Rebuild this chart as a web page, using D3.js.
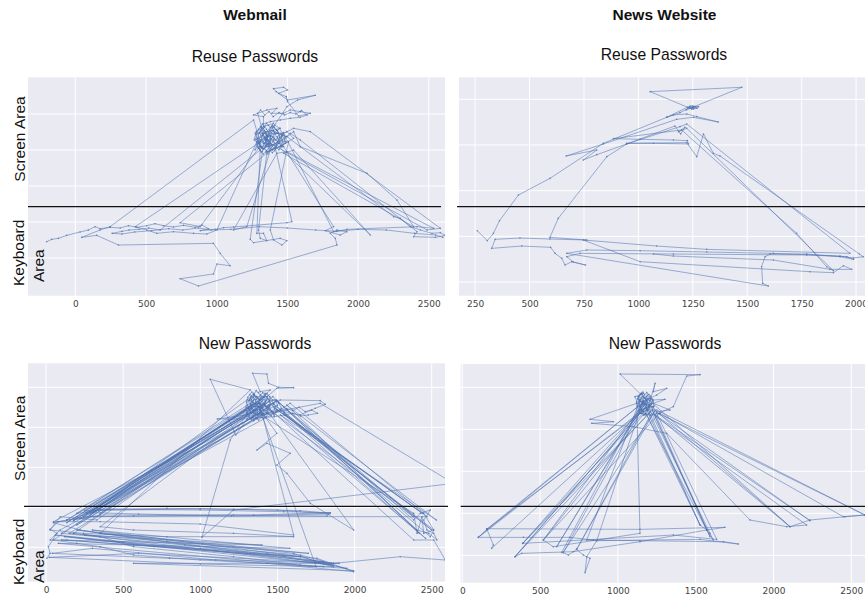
<!DOCTYPE html>
<html>
<head>
<meta charset="utf-8">
<script src="https://cdn.jsdelivr.net/npm/d3@7"></script>
<style>
  body { margin: 0; background: #fff; }
  svg { display: block; }
</style>
</head>
<body>
<svg id="fig" width="865" height="596"></svg>
<script>
// Gaze trajectories: [horizontal position, screen y (downwards)]
const webmailReuse = [
[-203,725],[-167,718],[-120,715],[-61,706],[33,696],[92,690],[140,680],[175,686],[246,682],[317,684],
[376,677],[435,682],[505,677],[564,671],[623,677],[694,681],[765,676],[848,682],[895,675],[942,686],
[883,692],[989,688],[1048,683],[1119,681],[1497,668],[1532,665],[1402,420],[1355,405],[1308,425],[1367,440],
[1426,428],[1461,405],[1390,392],[1331,400],[1284,418],[1320,445],[1261,360],[246,680],[175,690],[45,712],
[151,706],[305,735],[977,730],[1025,760],[1095,797],[1001,792],[977,822],[741,836],[871,858],[1851,735],
[1839,715],[1803,700],[1851,690],[1921,695],[1874,705],[1768,692],[1827,680],[1473,440],[1426,410],[1497,395],
[1544,415],[1485,430],[1414,445],[1355,455],[1296,690],[1308,715],[1355,722],[1331,700],[1284,700],[1308,440],
[1272,400],[1331,380],[1402,370],[1355,395],[1449,385],[423,680],[505,690],[576,700],[694,695],[836,700],
[930,702],[1001,690],[1284,425],[1355,410],[1426,400],[1497,410],[2252,650],[2299,655],[2370,680],[2441,690],
[2523,700],[2582,698],[2617,706],[2547,712],[2393,710],[2417,695],[1591,420],[1520,400],[1461,420],[1390,435],
[1300,400],[1330,385],[1360,410],[1340,430],[1310,420],[1285,440],[1320,455],[1350,440],[1380,420],[1410,400],
[1390,380],[1430,392],[1450,415],[1420,440],[1395,450],[1370,430],[1345,395],[1315,380],[1280,395],[1265,420],
[1290,430],[1330,445],[1365,455],[1400,435],[1440,430],[1470,405],[1445,385],[1410,375],[1375,390],[1350,420],
[1325,405],[1300,440],[1270,450],[1300,415],[1340,400],[1385,408],[1420,420],[1460,440],[1490,425],[1455,400],
[1320,400],[1335,392],[1350,405],[1342,418],[1328,425],[1315,412],[1305,398],[1318,386],[1334,378],[1352,388],
[1368,396],[1380,410],[1372,424],[1358,432],[1344,440],[1330,448],[1315,440],[1300,428],[1290,414],[1298,400],
[1312,390],[1326,404],[1340,412],[1356,418],[1370,408],[1386,398],[1402,392],[1416,402],[1408,416],[1394,426],
[1380,436],[1366,446],[1352,452],[1338,445],[1350,430],[1364,420],[1378,426],[1392,438],[1406,446],[1420,436],
[1432,424],[1444,412],[1436,398],[1422,390],[1408,382],[1394,376],[1380,384],[1366,376],[1352,370],[1338,382],
[1324,372],[1310,380],[1296,388],[1282,402],[1276,418],[1286,432],[1300,446],[1314,456],[1330,462],[1346,456],
[1362,462],[1378,452],[1394,458],[1410,452],[1426,444],[1440,450],[1454,438],[1466,426],[1458,410],[1470,398],
[1484,410],[1478,424],[1462,440],[1446,430],[1430,414],[1414,420],[1398,410],[1384,420],[1370,434],[1356,440],
[1290,340],[1310,330],[1340,345],[1370,335],[1400,350],[1440,338],[1480,345],[1520,338],[1560,342],[1600,332],
[1640,345],[1590,352],[1520,355],[1450,360],[1380,365],[1330,372],
[1331,350],[1261,345],[1355,330],[1426,325],[1390,340],[1473,340],[1520,330],[1591,335],[1662,340],[1579,348],
[1501,305],[1492,290],[1438,280],[1501,270],[1473,262],[1402,266],[1421,275],[1501,300],[1697,286],[1572,300],
[1497,320],[1402,380],[1343,420],[1390,450],[1449,440],[1508,425],[1379,690],[1402,720],[1461,735],[1497,722],
[1449,715],[1261,728],[1237,718],[1331,430],[1379,415],[2087,705],[1544,450],[1473,460],[2393,680],[2275,600],
[2063,520],[1591,440],[1544,395],[741,668],[883,680],[1296,445],[1379,430],[2488,690],[2582,685],[1662,395],
[1544,385],[1473,400],[1827,695],[1921,688],[2417,680],[2535,685],[1497,455],[1426,460],[1119,690],[1213,680],
[1379,450],[1355,420],[1308,450],[600,690],[520,684],[450,688],[380,690],[330,694],[260,700],[330,702],
[420,696],[540,692],[660,686],[760,690],[870,684],[960,690],[1100,688],[1300,680],[1500,684],[1700,690],
[1850,694],[2000,688],[2200,690],[2400,700],[2550,705],[2600,712]
];

const newsReuse = [
[260,692],[306,722],[334,700],[362,662],[449,585],[594,535],[839,430],[1130,352],[1225,322],[1253,326],
[1276,320],[1237,318],[1219,330],[1253,322],[1230,322],[1250,318],[1270,325],[1245,328],[1260,320],[1238,325],
[1475,262],[1054,275],[1234,324],[1191,338],[1130,352],[1161,345],[1222,342],[1268,350],[1367,366],[1253,352],
[1176,358],[839,432],[668,468],[809,450],[747,480],[809,464],[946,432],[1168,378],[1194,402],[1214,382],
[1184,395],[1222,385],[1896,812],[1865,800],[1727,700],[1199,390],[885,416],[1008,418],[1161,420],[1225,422],
[1230,432],[1069,430],[946,430],[1222,428],[1268,470],[1299,402],[1344,460],[1375,468],[2015,762],[2033,770],
[1988,774],[1926,768],[1620,760],[1314,756],[1008,752],[763,750],[671,760],[1597,858],[1571,850],[1566,800],
[1582,770],[1605,762],[1773,762],[1926,770],[1988,778],[1957,770],[1773,765],[1161,762],[732,760],[671,770],
[701,786],[757,795],[694,785],[663,795],[648,775],[617,760],[597,742],[464,738],[326,745],[342,718],
[456,714],[594,717],[763,720],[594,712],[632,655],[855,470],[946,432],[1191,380],[1222,372],[1972,760],
[1314,748],[1084,738],[747,720],[1008,785],[1788,815],[1896,818],[1942,797],[1980,808],[1880,808],[1620,780],
[1161,768],[1069,762]
];

const webmailNew = [
[5,775],[26,760],[15,740],[70,700],[26,688],[80,665],[156,660],[199,650],[264,642],[329,625],
[1302,300],[1345,285],[1388,300],[1432,280],[1475,310],[1410,330],[1345,340],[1324,310],
[134,660],[48,668],[221,690],[351,700],[783,720],[1215,740],[1605,760],[1777,790],[1864,800],[1648,795],
[1215,770],[567,740],[351,710],[178,700],
[1324,330],[1378,310],[1432,320],[1496,300],[1540,320],
[2383,660],[2426,640],[2491,630],[2448,660],[2469,690],[2513,700],[2534,720],[2480,700],[2405,690],
[1561,330],[1475,340],[1410,345],
[286,640],[351,628],[783,625],[1215,628],[1648,632],[1842,640],[1821,648],[1215,645],[567,648],[307,650],[178,660],
[1302,340],[1345,300],[1410,290],[1453,270],[1388,275],[1339,220],[1432,222],[1442,250],[1507,262],[1605,263],
[1496,265],[1432,290],
[1330,290],[1360,300],[1390,285],[1420,305],[1400,320],[1370,330],[1340,315],[1320,300],[1350,285],[1380,310],
[1410,330],[1440,315],[1470,300],[1450,290],[1420,280],[1390,295],[1360,320],[1330,340],[1310,325],[1335,305],
[1365,290],[1400,305],[1430,325],[1460,335],[1490,320],[1510,310],[1480,300],[1445,305],[1415,315],[1385,330],
[1355,345],[1325,355],[1345,335],[1375,320],[1405,300],[1435,295],[1465,315],[1495,335],[1525,325],[1505,305],
[1470,290],[1430,300],[1395,315],[1360,310],[1330,325],[1315,345],[1340,350],[1370,340],[1400,345],[1440,340],
[1330,300],[1345,292],[1360,305],[1352,318],[1338,326],[1325,314],[1318,300],[1330,288],[1346,280],[1362,290],
[1378,298],[1392,310],[1384,324],[1370,332],[1356,340],[1342,348],[1328,340],[1315,328],[1305,316],[1312,302],
[1326,294],[1340,306],[1354,312],[1368,318],[1382,308],[1398,298],[1412,292],[1426,302],[1418,316],[1404,326],
[1390,336],[1376,346],[1362,352],[1348,345],[1360,330],[1374,322],[1388,328],[1402,340],[1416,348],[1430,338],
[1442,326],[1454,314],[1446,300],[1432,292],[1418,284],[1404,278],[1390,286],[1376,278],[1362,272],[1348,284],
[1334,276],[1320,284],[1308,292],[1300,306],[1296,322],[1304,336],[1316,350],[1330,358],[1346,362],[1362,356],
[1378,360],[1394,352],[1410,356],[1426,350],[1442,342],[1458,348],[1472,336],[1484,326],[1476,312],[1490,302],
[1500,316],[1494,330],[1478,346],[1462,334],[1446,318],[1430,324],[1414,312],[1398,322],[1384,338],[1370,344],
[1520,330],[1560,326],[1600,332],[1640,322],[1680,335],[1720,330],[1760,340],[1700,345],[1650,348],[1600,340],
[1550,345],[1480,350],[1302,357],[1110,357],[1300,345],
[1518,300],[1777,302],[1810,313],[1745,325],[1648,345],[1540,335],
[2491,710],[2513,690],[2448,640],
[1583,310],[1518,330],
[91,690],[26,720],[134,720],[567,735],[999,745],[1432,760],[1756,775],[1994,815],[1432,790],[999,780],
[567,765],[351,740],[199,730],[48,720],
[1313,320],[1367,345],[1432,330],
[1994,690],[1713,610],[1561,520],[1496,495],[1583,460],[1432,430],[1367,450],[1496,400],
[1388,330],[1453,300],
[329,660],[91,650],[26,690],[243,700],[783,710],[1605,710],[1215,700],[567,690],[351,680],
[1302,350],[1367,355],[1432,340],
[1777,310],[2642,550],[1215,630],[1010,712],[1194,420],[1345,310],
[199,640],[415,628],[999,630],[1540,635],[1842,638],[1345,645],[351,645],[134,660],
[1345,330],[1410,310],
[2383,720],[2513,720],[2588,780],[2296,770],[1864,790],[567,790],[1994,812],
[1648,770],[1324,760],[351,700],
[1324,270],[1064,238],[1230,405],[1345,330],
[2383,640],[2405,700],[2437,650],[2448,700],[2513,690],
[1475,320],
[48,665],[351,665],[999,672],[1605,705],
[1388,320],
[1330,320],[264,640],[1360,330],[307,630],[1390,300],[221,655],[1420,290],[178,662],[1345,350],[286,645],
[1300,330],[134,668],[1375,310],[350,640],[1410,340],[199,675],[1450,320],[243,650],
[2470,650],[1500,330],[2440,640],[1540,340],[2500,690],[1470,310],[2420,700],[1560,315],[2530,660],[1520,345],
[2460,715],[1490,300],[2380,650],
[1450,330],[150,700],[1700,760],[200,690],[1800,785],[120,710],[1860,795],[250,705],[1400,735],[100,720],
[1650,770],[300,690],[1580,745],[80,730],[1750,800],
[1380,320],[250,632],[1000,626],[1500,630],[1830,642],[1200,648],[600,642],[300,638],[1420,310],
[100,700],[900,735],[1650,765],[1850,790],[1300,760],[500,725],[60,705],[700,740],[1550,770],[1950,805],
[1100,780],[300,745],[40,760],[800,775],[1900,790],[600,760],[20,772],[1000,792],[1800,800]
];

const newsNew = [
[157,688],[103,712],[393,712],[692,712],[842,720],[1142,722],[1678,725],[1774,732],[1528,718],[864,722],
[800,720],[1142,300],[1185,290],[1164,310],[1206,320],[1142,330],[1110,290],[1164,280],
[1130,290],[1150,280],[1170,295],[1190,285],[1210,300],[1185,315],[1160,305],[1140,320],[1165,335],[1195,330],
[1220,320],[1200,340],[1175,345],[1150,330],[1135,305],[1160,290],[1185,300],[1205,315],[1180,325],[1155,315],
[1140,300],[1150,292],[1162,302],[1156,314],[1145,320],[1136,310],[1130,298],[1140,286],[1152,280],[1166,288],
[1178,296],[1190,306],[1182,318],[1170,326],[1158,334],[1146,340],[1134,332],[1126,320],[1120,306],[1128,294],
[1142,304],[1156,310],[1170,314],[1184,304],[1198,296],[1210,288],[1222,298],[1214,312],[1202,322],[1190,332],
[1178,340],[1166,346],[1154,340],[1166,328],[1180,322],[1194,328],[1208,336],[1222,330],[1232,318],[1226,304],
[1212,296],[1200,284],[1186,278],[1172,284],[1160,276],[1146,282],[1134,290],[1150,304],[1176,310],[1200,314],
[189,745],[200,735],[157,686],[1142,688],[1688,682],[1571,690],[1528,675],
[1185,330],[1228,300],[1303,298],[1228,310],[1335,330],[1249,335],
[2106,680],[2235,660],[2460,650],[2588,645],[2449,650],
[1271,340],[1206,345],[1142,340],
[339,770],[382,760],[714,755],[1142,725],[1571,690],[1613,720],[1592,700],
[1196,320],[1239,250],[1228,275],[1314,265],[1249,285],[1185,300],
[1014,222],[1528,224],[1442,228],[1356,320],[1271,338],
[521,720],[585,740],[1142,700],
[1121,310],[821,358],[971,365],[832,370],[1099,380],[1314,400],[1849,660],[2085,680],[2213,675],
[1185,330],[1164,300],
[639,757],[682,765],[735,748],[778,765],[821,775],[789,818],[800,770],[864,722],
[1142,330],[1185,310],
[388,730],[1356,705],[1635,718],
[1249,340],[1228,320],
[1200,320],[157,688],[1180,300],[103,712],[1160,330],[339,770],[1200,340],[389,730],[1220,310],[521,720],
[1150,320],[607,740],[1190,295],[650,757],[1240,330],[735,748],[1210,345],[1528,675],[1180,340],[1571,690],
[1220,330],[1592,710],[1200,300],[2106,680],[1240,345],[2235,662],[1260,340],[2588,645],[1250,330]
];

// Axis ticks and gridlines
const ticksWebmail = [0, 500, 1000, 1500, 2000, 2500];
const ticksNewsReuse = [250, 500, 750, 1000, 1250, 1500, 1750, 2000];
const ticksNewsNew = [0, 500, 1000, 1500, 2000, 2500];
const gridWebmailReuse = [342, 450, 558, 666, 774];
const gridNewsReuse = [298, 435, 572, 709, 846];
const gridWebmailNew = [262, 382, 502, 622, 742];
const gridNewsNew = [262, 388, 514, 640, 766];
// Boundary between screen and keyboard areas
const dividerY = [620, 620, 619, 619];

const columnTitles = ["Webmail", "News Website"];
const rowTitles = ["Reuse Passwords", "New Passwords"];

const blue = "#4c72b0";
const fig = d3.select("#fig");

const panels = [
  { data: webmailReuse, xDomain: [-335, 2615], xTicks: ticksWebmail, yDomain: [232, 887], yGrid: gridWebmailReuse,
    divider: dividerY[0], left: 28, right: 445, top: 77.3, bottom: 295.7, lineExt: [0, -4],
    title: rowTitles[0], titleX: 255, titleY: 61.5 },
  { data: newsReuse, xDomain: [176, 2041], xTicks: ticksNewsReuse, yDomain: [232, 887], yGrid: gridNewsReuse,
    divider: dividerY[1], left: 459, right: 865, top: 77.3, bottom: 295.7, lineExt: [2, 0],
    title: rowTitles[0], titleX: 664, titleY: 59.5 },
  { data: webmailNew, xDomain: [-117, 2586], xTicks: ticksWebmail, yDomain: [190, 845], yGrid: gridWebmailNew,
    divider: dividerY[2], left: 28, right: 445, top: 363.3, bottom: 581.7, lineExt: [4, 3],
    title: rowTitles[1], titleX: 255, titleY: 349.3 },
  { data: newsNew, xDomain: [-10, 2588], xTicks: ticksNewsNew, yDomain: [192, 848], yGrid: gridNewsNew,
    divider: dividerY[3], left: 460.7, right: 865, top: 364, bottom: 582.7, lineExt: [0, 0],
    title: rowTitles[1], titleX: 665, titleY: 349.3 }
];

panels.forEach((p, i) => {
  const x = d3.scaleLinear().domain(p.xDomain).range([p.left, p.right]);
  const y = d3.scaleLinear().domain(p.yDomain).range([p.top, p.bottom]);
  const g = fig.append("g");

  g.append("clipPath").attr("id", "clip" + i)
    .append("rect")
    .attr("x", p.left).attr("y", p.top)
    .attr("width", p.right - p.left).attr("height", p.bottom - p.top);

  g.append("rect")
    .attr("x", p.left).attr("y", p.top)
    .attr("width", p.right - p.left).attr("height", p.bottom - p.top)
    .attr("fill", "#eaeaf2");

  g.append("g").selectAll("line").data(p.xTicks).join("line")
    .attr("x1", d => x(d)).attr("x2", d => x(d))
    .attr("y1", p.top).attr("y2", p.bottom)
    .attr("stroke", "#fff").attr("stroke-width", 1);

  g.append("g").selectAll("line").data(p.yGrid).join("line")
    .attr("x1", p.left).attr("x2", p.right)
    .attr("y1", d => y(d)).attr("y2", d => y(d))
    .attr("stroke", "#fff").attr("stroke-width", 1);

  const plot = g.append("g").attr("clip-path", `url(#clip${i})`);
  const line = d3.line().x(d => x(d[0])).y(d => y(d[1]));
  plot.append("path").datum(p.data)
    .attr("d", line)
    .attr("fill", "none")
    .attr("stroke", blue)
    .attr("stroke-width", 0.6)
    .attr("stroke-linejoin", "round")
    .attr("opacity", 0.9);
  plot.append("g").selectAll("circle").data(p.data).join("circle")
    .attr("cx", d => x(d[0])).attr("cy", d => y(d[1]))
    .attr("r", 0.8)
    .attr("fill", blue)
    .attr("opacity", 0.8);

  g.append("line")
    .attr("x1", p.left - p.lineExt[0]).attr("x2", p.right + p.lineExt[1])
    .attr("y1", y(p.divider)).attr("y2", y(p.divider))
    .attr("stroke", "#111").attr("stroke-width", 1.3);

  const axis = d3.axisBottom(x).tickValues(p.xTicks).tickSize(0).tickPadding(4.8).tickFormat(d3.format("d"));
  const ax = g.append("g").attr("transform", `translate(0,${p.bottom})`).call(axis);
  ax.select(".domain").remove();
  ax.attr("font-size", null).attr("font-family", null);
  ax.selectAll("text")
    .attr("font-family", "DejaVu Sans, sans-serif")
    .attr("font-size", 9)
    .attr("fill", "#444");

  fig.append("text")
    .attr("x", p.titleX).attr("y", p.titleY)
    .attr("text-anchor", "middle")
    .attr("font-family", "Liberation Sans, Arial, sans-serif")
    .attr("font-size", 15.7)
    .attr("fill", "#111")
    .text(p.title);
});

// Column headers
[[255, columnTitles[0]], [664.5, columnTitles[1]]].forEach(([cx, t]) => {
  fig.append("text")
    .attr("x", cx).attr("y", 20)
    .attr("text-anchor", "middle")
    .attr("font-family", "Liberation Sans, Arial, sans-serif")
    .attr("font-weight", "bold")
    .attr("font-size", 15.5)
    .attr("fill", "#111")
    .text(t);
});

// Row area labels on the left
const labelFont = "Liberation Sans, Arial, sans-serif";
[[139, 286, 282], [438.3, 585, 583]].forEach(([screenMid, kbStart, areaStart]) => {
  fig.append("text")
    .attr("transform", `translate(25,${screenMid}) rotate(-90)`)
    .attr("text-anchor", "middle")
    .attr("font-family", labelFont).attr("font-size", 15.5).attr("fill", "#111")
    .text("Screen Area");
  fig.append("text")
    .attr("transform", `translate(23.5,${kbStart}) rotate(-90)`)
    .attr("text-anchor", "start")
    .attr("font-family", labelFont).attr("font-size", 15.5).attr("fill", "#111")
    .text("Keyboard");
  fig.append("text")
    .attr("transform", `translate(44,${areaStart}) rotate(-90)`)
    .attr("text-anchor", "start")
    .attr("font-family", labelFont).attr("font-size", 15.5).attr("fill", "#111")
    .text("Area");
});
</script>
</body>
</html>
